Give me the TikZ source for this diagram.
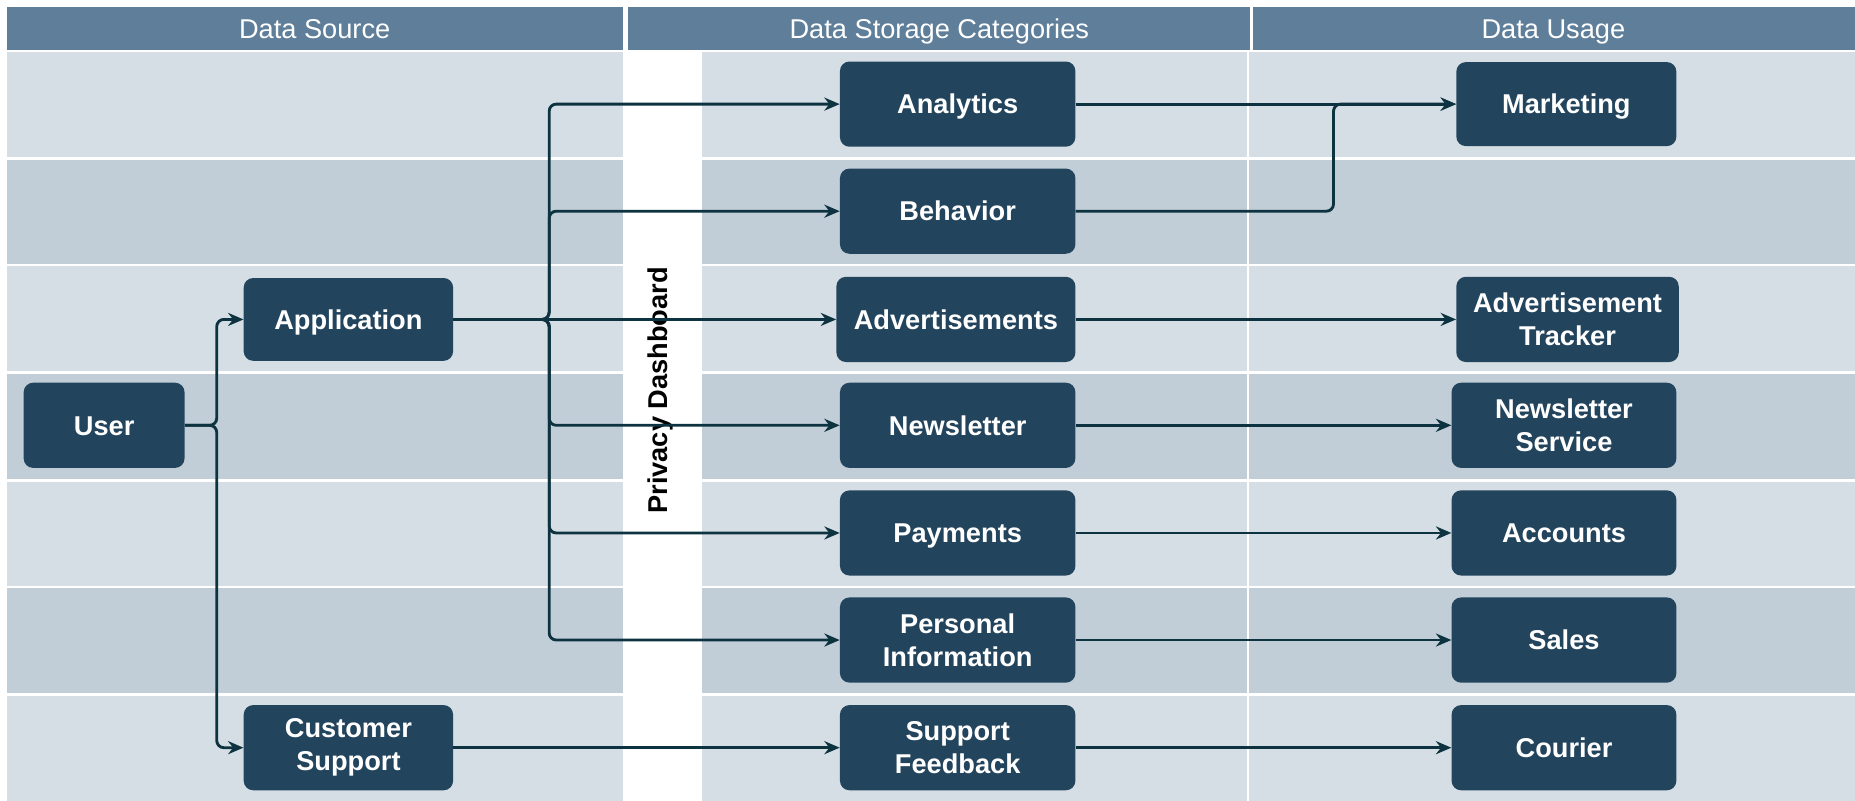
\documentclass[tikz,border=0pt]{standalone}
\usepackage{fontspec}
\setmainfont{Liberation Sans}
\usetikzlibrary{arrows.meta}
\definecolor{hdrc}{HTML}{5E7E9A}
\definecolor{rowlight}{HTML}{D5DEE5}
\definecolor{rowdark}{HTML}{C1CED8}
\definecolor{nodec}{HTML}{23445D}
\definecolor{linec}{HTML}{0E3340}
\begin{document}
\begin{tikzpicture}[x=1pt,y=-1pt,
  hdrbox/.style={fill=hdrc,draw=none},
  hdrtext/.style={text=white,font=\fontsize{23}{27}\selectfont,text height=16.5pt,text depth=0pt},
  box/.style={fill=nodec,draw=none,rounded corners=8pt,text=white,align=center,
    font=\bfseries\fontsize{23}{28}\selectfont,inner sep=0pt,minimum height=72pt,minimum width=199pt},
  single/.style={text height=16.5pt,text depth=0pt},
  conn/.style={draw=linec,line width=2.4pt,rounded corners=6pt,-{Stealth[length=13pt,width=11pt]}}]
\useasboundingbox (0,0) rectangle (1568,677);
\fill[white] (0,0) rectangle (1568,677);
% headers
\fill[hdrbox] (6,6) rectangle (527,42);
\fill[hdrbox] (531,6) rectangle (1057,42);
\fill[hdrbox] (1059,6) rectangle (1568,42);
\node[hdrtext] (h1) at (266,24) {Data Source};
\node[hdrtext] (h2) at (794,24) {Data Storage Categories};
\node[hdrtext] (h3) at (1313,24) {Data Usage};
% rows
\foreach \ya/\yb/\c in {44/133/rowlight,135/223/rowdark,225/314/rowlight,316/405/rowdark,407/495/rowlight,497/586/rowdark,588/677/rowlight}{
  \fill[\c] (6,\ya) rectangle (527,\yb);
  \fill[\c] (593,\ya) rectangle (1054,\yb);
  \fill[\c] (1056,\ya) rectangle (1568,\yb);
}
\node[rotate=90,font=\bfseries\fontsize{23}{28}\selectfont,text=black] (pd) at (558,330) {Privacy Dashboard};
% nodes
\node[box,single,minimum width=136pt] (user) at (88,359.5) {User};
\node[box,single,minimum width=177pt,minimum height=70pt] (app) at (294.5,270) {Application};
\node[box,minimum width=177pt] (cs) at (294.5,632) {Customer\\Support};
\node[box,single] (ana) at (809.5,88) {Analytics};
\node[box,single] (beh) at (809.5,178.5) {Behavior};
\node[box,single,minimum width=202pt] (adv) at (808,270) {Advertisements};
\node[box,single] (news) at (809.5,359.5) {Newsletter};
\node[box,single] (pay) at (809.5,450.5) {Payments};
\node[box] (pers) at (809.5,541) {Personal\\Information};
\node[box] (sf) at (809.5,632) {Support\\Feedback};
\node[box,single,minimum width=186pt,minimum height=71pt] (mkt) at (1324,88) {Marketing};
\node[box,minimum width=188pt] (advt) at (1325,270) {Advertisement\\Tracker};
\node[box,minimum width=190pt] (nls) at (1322,359.5) {Newsletter\\Service};
\node[box,single,minimum width=190pt] (acc) at (1322,450.5) {Accounts};
\node[box,single,minimum width=190pt] (sales) at (1322,541) {Sales};
\node[box,single,minimum width=190pt] (cour) at (1322,632) {Courier};
% connectors
\draw[conn] (user.east) -- ++(27,0) |- (app.west);
\draw[conn] (user.east) -- ++(27,0) |- (cs.west);
\draw[conn] (app.east) -- ++(81,0) |- (ana.west);
\draw[conn] (app.east) -- ++(81,0) |- (beh.west);
\draw[conn] (app.east) -- (adv.west);
\draw[conn] (app.east) -- ++(81,0) |- (news.west);
\draw[conn] (app.east) -- ++(81,0) |- (pay.west);
\draw[conn] (app.east) -- ++(81,0) |- (pers.west);
\draw[conn] (cs.east) -- (sf.west);
\draw[conn] (ana.east) -- (mkt.west);
\draw[conn] (beh.east) -- ++(218,0) |- (mkt.west);
\draw[conn] (adv.east) -- (advt.west);
\draw[conn] (news.east) -- (nls.west);
\draw[conn] (pay.east) -- (acc.west);
\draw[conn] (pers.east) -- (sales.west);
\draw[conn] (sf.east) -- (cour.west);
\end{tikzpicture}
\end{document}
